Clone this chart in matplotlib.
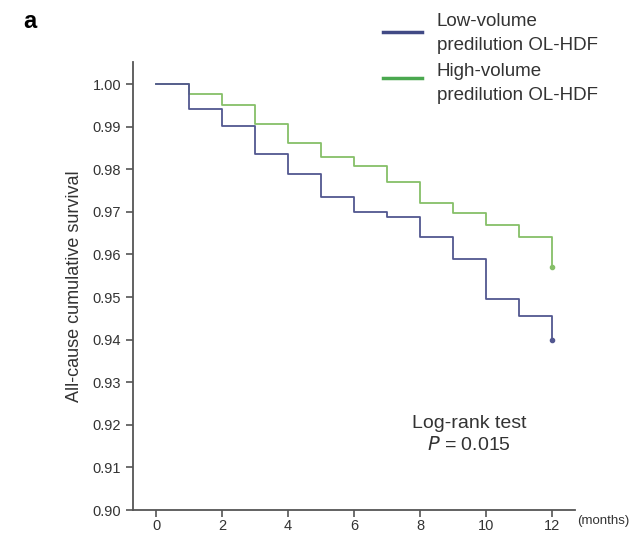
import matplotlib
matplotlib.use('Agg')
import matplotlib.pyplot as plt
from matplotlib.lines import Line2D

plt.rcParams['font.family'] = ['Liberation Sans', 'DejaVu Sans']

# Kaplan-Meier estimates at each month (0..12)
months = [0, 1, 2, 3, 4, 5, 6, 7, 8, 9, 10, 11, 12]
low_volume = [1.000, 0.9941, 0.9901, 0.9836, 0.9790, 0.9736, 0.9700,
              0.9688, 0.9641, 0.9590, 0.9496, 0.9456, 0.9400]
high_volume = [1.000, 0.9977, 0.9952, 0.9907, 0.9862, 0.9830, 0.9808,
               0.9771, 0.9721, 0.9697, 0.9669, 0.9641, 0.9570]
group_names = [('Low-volume', 'predilution OL-HDF'), ('High-volume', 'predilution OL-HDF')]
x_ticks = [0, 2, 4, 6, 8, 10, 12]
y_ticks = [0.90, 0.91, 0.92, 0.93, 0.94, 0.95, 0.96, 0.97, 0.98, 0.99, 1.00]

blue = '#525790'
green = '#86bf68'
blue_key = '#414a85'
green_key = '#4aa84f'
axis_col = '#555555'
text_col = '#333333'

W, H = 635, 540
fig = plt.figure(figsize=(W / 100, H / 100), dpi=100)
ax = fig.add_axes([133 / W, 1 - 510 / H, (575 - 133) / W, (510 - 62) / H])

ax.plot(months, high_volume, drawstyle='steps-post', color=green, lw=1.3,
        marker='o', markersize=3, markevery=[len(months) - 1])
ax.plot(months, low_volume, drawstyle='steps-post', color=blue, lw=1.3,
        marker='o', markersize=3, markevery=[len(months) - 1])

ax.set_xlim(-0.70, 12.7)
ax.set_ylim(0.90, 1.0052)
ax.set_xticks(x_ticks)
ax.set_yticks(y_ticks)
ax.set_yticklabels(['%.2f' % v for v in y_ticks])

for s in ['top', 'right']:
    ax.spines[s].set_visible(False)
for s in ['left', 'bottom']:
    ax.spines[s].set_color(axis_col)
    ax.spines[s].set_linewidth(1.3)
ax.tick_params(axis='both', colors=axis_col, labelcolor=text_col, labelsize=10.5,
               width=1.2, length=5, direction='out')
ax.tick_params(axis='x', length=5, pad=1.5)

ax.set_ylabel('All-cause cumulative survival', fontsize=13, color=text_col, labelpad=7)

ax.text(12.75, 0.8975, '(months)', fontsize=9.5, color=text_col, va='center', ha='left',
        clip_on=False)

ax.text(9.48, 0.9202, 'Log-rank test', fontsize=14, color=text_col,
        ha='center', va='center')
ax.text(9.48, 0.9153, '$\\it{P}$ = 0.015', fontsize=14, color=text_col,
        ha='center', va='center')

# legend drawn by hand: coloured dash + two-line label
for (first, second), col, y_line, y_top in zip(group_names, [blue_key, green_key],
                                               [32, 78], [22, 72]):
    fig.add_artist(Line2D([383 / W, 422 / W], [1 - y_line / H, 1 - y_line / H],
                          color=col, lw=2.5, transform=fig.transFigure))
    fig.text(437 / W, 1 - y_top / H, first, fontsize=13.5, color=text_col, va='center')
    fig.text(437 / W, 1 - (y_top + 24) / H, second, fontsize=13.5, color=text_col, va='center')

fig.text(30 / W, 1 - 21 / H, 'a', fontsize=17, fontweight='bold', ha='center', va='center')

fig.savefig('out.png', dpi=100)
